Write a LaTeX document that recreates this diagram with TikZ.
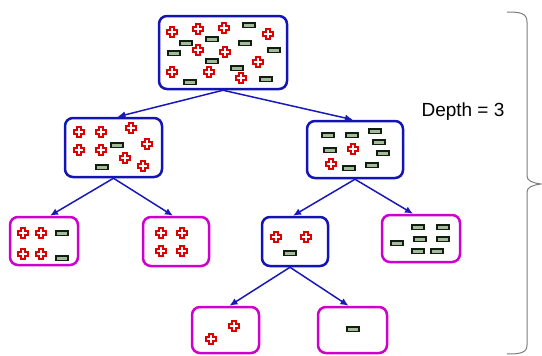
\documentclass[tikz,border=0pt]{standalone}
\usepackage{fontspec}
\setmainfont{Liberation Sans}
\usetikzlibrary{arrows.meta,calc}
\definecolor{bboxc}{RGB}{20,20,180}
\definecolor{mboxc}{RGB}{205,0,205}
\definecolor{arrc}{RGB}{25,25,185}
\definecolor{plusred}{RGB}{220,0,0}
\definecolor{minfill}{RGB}{165,185,155}
\definecolor{minedge}{RGB}{15,30,15}
\definecolor{bracec}{RGB}{125,125,125}
\tikzset{
  bluebox/.style={draw=bboxc, line width=2.5pt, rounded corners=8pt, fill=white},
  magbox/.style={draw=mboxc, line width=2.5pt, rounded corners=8pt, fill=white},
  conn/.style={draw=arrc, line width=1.5pt, -{Latex[length=8pt,width=7pt]}},
  pics/pplus/.style={code={
    \draw[plusred, line width=5.6pt] (-6.2,0)--(6.2,0) (0,-6.2)--(0,6.2);
    \draw[white, line width=1.6pt] (-4.2,0)--(4.2,0) (0,-4.2)--(0,4.2);
  }},
  pics/mminus/.style={code={
    \draw[minedge, fill=minfill, line width=1.8pt] (-6,-2.4) rectangle (6,2.4);
  }}
}
\begin{document}
\begin{tikzpicture}[x=1pt,y=-1pt]
\useasboundingbox (0,0) rectangle (542,356);
% boxes
\node[bluebox, minimum width=128pt, minimum height=73pt] (root) at (223,52.5) {};
\node[bluebox, minimum width=97pt, minimum height=59pt] (L) at (113.5,147.5) {};
\node[bluebox, minimum width=96pt, minimum height=57pt] (R) at (355,149.5) {};
\node[magbox, minimum width=68pt, minimum height=48pt] (LL) at (44,241) {};
\node[magbox, minimum width=66pt, minimum height=49pt] (LR) at (176,241.5) {};
\node[bluebox, minimum width=66pt, minimum height=49pt] (RL) at (295,241.5) {};
\node[magbox, minimum width=78pt, minimum height=47pt] (RR) at (421,238.5) {};
\node[magbox, minimum width=67pt, minimum height=46pt] (RLL) at (225.5,330) {};
\node[magbox, minimum width=69pt, minimum height=46pt] (RLR) at (352.5,330) {};
% connectors
\draw[conn] (root.south) -- ($(L.north)+(4,0)$);
\draw[conn] (root.south) -- ($(R.north)+(-2,0)$);
\draw[conn] (L.south) -- ($(LL.north)+(6,0)$);
\draw[conn] (L.south) -- ($(LR.north)+(-3,0)$);
\draw[conn] (R.south) -- ($(RL.north)+(-2,0)$);
\draw[conn] (R.south) -- ($(RR.north)+(-8,0)$);
\draw[conn] ($(RL.south)+(-5,0)$) -- ($(RLL.north)+(4,0)$);
\draw[conn] ($(RL.south)+(-5,0)$) -- ($(RLR.north)+(-4,0)$);
% plus signs
\foreach \p in {(172,32),(198,29),(224,28),(268,34),(198,50),(225,52),(258,62),(172,72),(209,72),(241,78),
  (79,132),(101,132),(131,128),(147,144),(79,150),(101,150),(125,158),(143,166),
  (353,149),(331,164),
  (23,233),(41,233),(23,254),(41,254),
  (161,233),(182,233),(161,251),(182,251),
  (276,237),(306,237),
  (234,326),(211,339)}
  \pic at \p {pplus};
% minus signs
\foreach \p in {(249,25),(186,43),(212,39),(245,43),(174,53),(274,50),(212,61),(237,68),(190,82),(266,79),
  (117,145),(102,167),
  (328,135),(352,135),(375,131),(379,142),(330,150),(383,153),(349,168),(372,165),
  (62,233),(62,258),
  (290,253),
  (418,227),(443,227),(397,243),(420,239),(443,239),(418,251),(437,251),
  (353,329)}
  \pic at \p {mminus};
% brace
\draw[bracec, line width=1pt] (507,12) .. controls (520,12) and (527,13) .. (527,22) -- (527,176)
  .. controls (527,181) and (533,183) .. (541,184)
  .. controls (533,185) and (527,187) .. (527,192) -- (527,345)
  .. controls (527,353) and (520,354) .. (507,354);
\node[font=\fontsize{19}{22}\selectfont, inner sep=0pt] (depth) at (463,112) {Depth = 3};
\end{tikzpicture}
\end{document}
